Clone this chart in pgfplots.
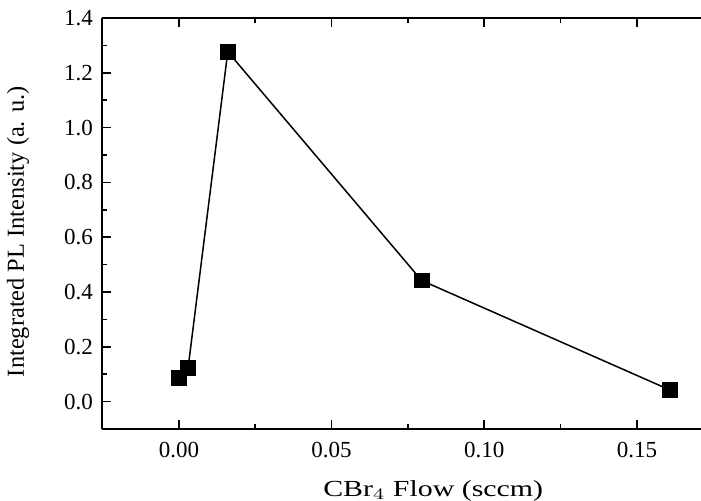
\documentclass[border=0pt]{standalone}
\usepackage{graphicx}
\usepackage{pgfplots}
\pgfplotsset{compat=1.18}
\usepackage{fontspec}
\setmainfont{Liberation Serif}
\begin{document}
\begin{tikzpicture}
\begin{axis}[
  name=ax,
  scale only axis,
  width=299.5pt, height=205.5pt,
  xmin=-0.0252, xmax=0.171,
  ymin=-0.1, ymax=1.4,
  axis x line=box, axis y line=left,
  axis line style={line width=1.1pt, -},
  xtick={0,0.05,0.10,0.15},
  xticklabels={0.00,0.05,0.10,0.15},
  ytick={0,0.2,...,1.4},
  yticklabel style={xshift=-1pt, /pgf/number format/fixed,
    /pgf/number format/fixed zerofill, /pgf/number format/precision=1},
  minor x tick num=1, minor y tick num=1,
  tick align=inside,
  major tick length=4.5pt, minor tick length=2.5pt,
  tick style={line width=0.8pt, black},
  /pgf/number format/assume math mode=true,
  tick label style={font=\fontsize{11.5}{13}\selectfont},
  xticklabel style={yshift=-3pt},
  xlabel={\scalebox{1.3}[1]{CBr$_4$ Flow (sccm)}},
  ylabel={Integrated PL Intensity (a. u.)},
  xlabel style={font=\fontsize{11.5}{13}\selectfont,
    at={(axis description cs:0.553,-0.163)}, anchor=base},
  ylabel style={font=\fontsize{12.2}{14}\selectfont,
    at={(axis description cs:-0.140,0.48)}, anchor=center},
]
\addplot[black, line width=0.75pt, mark=square*, mark size=3.6pt,
  mark options={solid, fill=black}] coordinates {
  (0.000,0.087) (0.003,0.123) (0.016,1.277) (0.0795,0.442) (0.1607,0.043)
};
\end{axis}
\pgfresetboundingbox
\path ([xshift=-51pt,yshift=-35.5pt]ax.south west) rectangle ([yshift=9pt]ax.north east);
\end{tikzpicture}
\end{document}
